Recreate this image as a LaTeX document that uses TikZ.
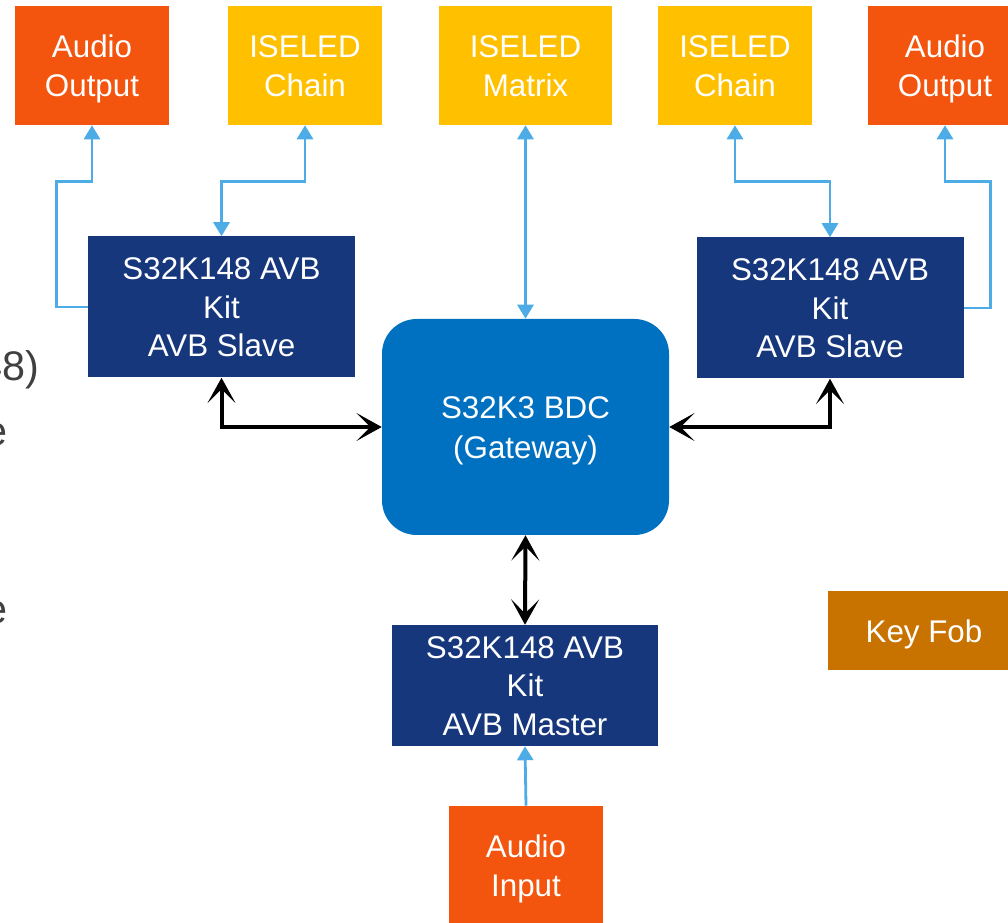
\documentclass[tikz,border=0pt]{standalone}
\usepackage{fontspec}
\setmainfont{Liberation Sans}
\usetikzlibrary{arrows.meta}

\definecolor{audioorange}{RGB}{243,84,14}
\definecolor{iseledyellow}{RGB}{255,192,0}
\definecolor{kitblue}{RGB}{23,55,125}
\definecolor{gatewayblue}{RGB}{0,112,192}
\definecolor{linkblue}{RGB}{77,172,230}
\definecolor{fobbrown}{RGB}{200,114,0}
\definecolor{fraggrey}{RGB}{64,64,64}

% struts so that the capitals sit centred in every box
\newcommand{\topstrut}{\rule{0pt}{22.8pt}}
\newcommand{\botstrut}{\rule[-6pt]{0pt}{6pt}}

\tikzset{
  box/.style={inner sep=0pt, align=center, text=white, font=\fontsize{23.5}{29}\selectfont},
  audiobox/.style={box, fill=audioorange, minimum width=115.5pt, minimum height=89.25pt},
  iseledbox/.style={box, fill=iseledyellow, minimum width=115.5pt, minimum height=89.25pt},
  kitbox/.style={box, fill=kitblue, minimum width=200.25pt, minimum height=105.75pt},
  frag/.style={inner sep=0pt, text=fraggrey, font=\fontsize{31}{37}\selectfont},
  link/.style={draw=linkblue, line width=2.1pt, -{Triangle[width=12pt,length=10.5pt]}},
  duallink/.style={link, {Triangle[width=12pt,length=10.5pt]}-{Triangle[width=12pt,length=10.5pt]}},
  bus/.style={draw=black, line width=3pt, line join=miter,
    {Stealth[length=19pt,width=21pt,inset=10.5pt]}-{Stealth[length=19pt,width=21pt,inset=10.5pt]}}
}

\begin{document}
\begin{tikzpicture}[x=0.75pt,y=0.75pt,yscale=-1,xscale=1]
\useasboundingbox (0,0) rectangle (1008,923);

%Shape: Rectangle (top row)
\node [audiobox] (aoL) at (92,65.5) {\topstrut Audio\\Output\botstrut};
\node [iseledbox] (icL) at (305,65.5) {\topstrut ISELED\\Chain\botstrut};
\node [iseledbox, minimum width=129.75pt] (im) at (525.5,65.5) {\topstrut ISELED\\Matrix\botstrut};
\node [iseledbox] (icR) at (735,65.5) {\topstrut ISELED\\Chain\botstrut};
\node [audiobox] (aoR) at (945,65.5) {\topstrut Audio\\Output\botstrut};

%Shape: Rectangle (kits)
\node [kitbox] (slL) at (221.5,307) {\topstrut S32K148 AVB\\Kit\\AVB Slave\botstrut};
\node [kitbox] (slR) at (830,308) {\topstrut S32K148 AVB\\Kit\\AVB Slave\botstrut};
\node [kitbox, minimum width=199.5pt, minimum height=90.75pt] (ms) at (525,685.5) {\topstrut S32K148 AVB\\Kit\\AVB Master\botstrut};

%Shape: Rounded Rectangle
\node [box, font=\fontsize{23.5}{30}\selectfont, fill=gatewayblue, rounded corners=26pt, minimum width=215.25pt, minimum height=162pt] (gw) at (525.5,427) {\topstrut S32K3 BDC\\(Gateway)\botstrut};

%Shape: Rectangle (bottom, side)
\node [audiobox] (ai) at (526,865.5) {\topstrut Audio\\Input\botstrut};
\node [box, fill=fobbrown, minimum width=144pt, minimum height=59.25pt] (kf) at (924,631) {\topstrut Key Fob\botstrut};

% Text Node (cut text at left edge)
\node [frag, anchor=east] (fragA) at (40,370) {48)};
\node [frag, anchor=east] (fragB) at (8,435) {e};
\node [frag, anchor=east] (fragC) at (8,613) {e};

%Connector Lines
\path (aoL.south) ++(0,56) coordinate (aoLk);
\path (aoR.south) ++(0,56) coordinate (aoRk);
\draw [link] (slL.west) -- ++(-31,0) |- (aoLk) -- (aoL.south);
\draw [duallink] (icL.south) -- ++(0,56) -| (slL.north);
\draw [duallink] (im.south) -- (gw.north);
\draw [duallink] (icR.south) -- ++(0,56) -| (slR.north);
\draw [link] (slR.east) -- ++(27,0) |- (aoRk) -- (aoR.south);
\draw [link] (ai.north) -- (ms.south);

%Bus Lines
\draw [bus] (slL.south) |- (gw.west);
\draw [bus] (slR.south) |- (gw.east);
\draw [bus] (gw.south) -- (ms.north);

\end{tikzpicture}
\end{document}
